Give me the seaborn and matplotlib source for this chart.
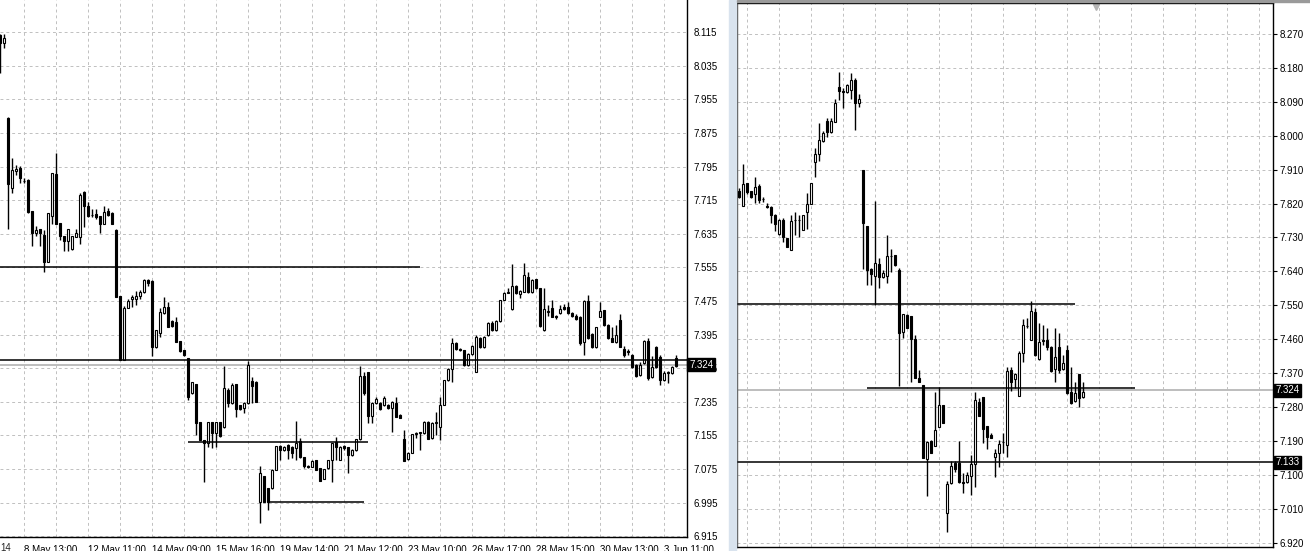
import numpy as np
import matplotlib
matplotlib.use("Agg")
import matplotlib.pyplot as plt
from matplotlib.patches import Rectangle
import seaborn as sns

# ----------------------------------------------------------------------
# Data: left chart (7 May - 3 Jun), one entry per bar
# ----------------------------------------------------------------------
L_OPEN = [
    8.109, 8.090, 7.911, 7.744, 7.785, 7.792, 7.761, 7.763, 7.690, 7.637,
    7.647, 7.633, 7.568, 7.678, 7.778, 7.661, 7.630, 7.618, 7.599, 7.628,
    7.628, 7.735, 7.702, 7.680, 7.682, 7.678, 7.659, 7.690, 7.685, 7.644,
    7.487, 7.335, 7.459, 7.480, 7.480, 7.487, 7.497, 7.525, 7.523, 7.366,
    7.399, 7.447, 7.461, 7.428, 7.425, 7.380, 7.359, 7.340, 7.256, 7.278,
    7.187, 7.144, 7.137, 7.187, 7.161, 7.187, 7.175, 7.263, 7.232, 7.278,
    7.228, 7.221, 7.232, 7.285, 7.283, 6.997, 7.059, 7.030, 7.030, 7.073,
    7.130, 7.121, 7.132, 7.128, 7.125, 7.142, 7.104, 7.082, 7.080, 7.097,
    7.078, 7.052, 7.078, 7.097, 7.140, 7.097, 7.130, 7.128, 7.109, 7.121,
    7.147, 7.297, 7.306, 7.202, 7.232, 7.232, 7.228, 7.228, 7.221, 7.232,
    7.204, 7.147, 7.099, 7.113, 7.159, 7.161, 7.161, 7.187, 7.149, 7.185,
    7.175, 7.228, 7.287, 7.313, 7.375, 7.361, 7.359, 7.323, 7.349, 7.306,
    7.387, 7.366, 7.394, 7.423, 7.406, 7.428, 7.478, 7.494, 7.456, 7.511,
    7.492, 7.497, 7.532, 7.497, 7.528, 7.506, 7.406, 7.449, 7.459, 7.440,
    7.447, 7.461, 7.461, 7.447, 7.440, 7.437, 7.378, 7.475, 7.397, 7.366,
    7.437, 7.454, 7.418, 7.387, 7.378, 7.430, 7.361, 7.356, 7.347, 7.323,
    7.299, 7.328, 7.380, 7.294, 7.366, 7.342, 7.287, 7.304, 7.304, 7.340,
]
L_CLOSE = [
    8.090, 8.102, 7.754, 7.787, 7.790, 7.768, 7.760, 7.687, 7.637, 7.644,
    7.637, 7.568, 7.685, 7.780, 7.659, 7.630, 7.618, 7.647, 7.630, 7.637,
    7.728, 7.702, 7.678, 7.679, 7.675, 7.659, 7.687, 7.680, 7.659, 7.485,
    7.335, 7.459, 7.475, 7.485, 7.487, 7.497, 7.525, 7.518, 7.366, 7.406,
    7.449, 7.461, 7.413, 7.416, 7.378, 7.356, 7.347, 7.247, 7.283, 7.185,
    7.144, 7.137, 7.187, 7.161, 7.187, 7.154, 7.268, 7.232, 7.275, 7.218,
    7.218, 7.232, 7.323, 7.273, 7.235, 7.066, 6.997, 6.997, 7.073, 7.130,
    7.121, 7.128, 7.121, 7.113, 7.137, 7.104, 7.082, 7.080, 7.094, 7.073,
    7.047, 7.075, 7.097, 7.137, 7.128, 7.128, 7.125, 7.109, 7.121, 7.147,
    7.297, 7.256, 7.202, 7.232, 7.242, 7.218, 7.244, 7.221, 7.235, 7.199,
    7.197, 7.094, 7.113, 7.159, 7.161, 7.163, 7.187, 7.147, 7.185, 7.187,
    7.228, 7.287, 7.313, 7.375, 7.361, 7.359, 7.323, 7.349, 7.368, 7.390,
    7.366, 7.390, 7.423, 7.406, 7.428, 7.478, 7.494, 7.497, 7.511, 7.494,
    7.499, 7.537, 7.497, 7.525, 7.506, 7.416, 7.456, 7.452, 7.437, 7.437,
    7.456, 7.456, 7.447, 7.440, 7.432, 7.375, 7.475, 7.387, 7.366, 7.413,
    7.452, 7.418, 7.387, 7.378, 7.394, 7.366, 7.347, 7.354, 7.318, 7.297,
    7.323, 7.380, 7.292, 7.318, 7.318, 7.287, 7.304, 7.306, 7.318, 7.321,
]
L_HIGH = [
    8.111, 8.111, 7.913, 7.816, 7.799, 7.797, 7.768, 7.765, 7.690, 7.654,
    7.647, 7.644, 7.685, 7.780, 7.828, 7.661, 7.630, 7.647, 7.630, 7.647,
    7.733, 7.737, 7.711, 7.694, 7.694, 7.678, 7.702, 7.697, 7.687, 7.647,
    7.487, 7.463, 7.480, 7.490, 7.499, 7.502, 7.528, 7.528, 7.525, 7.406,
    7.459, 7.485, 7.473, 7.430, 7.437, 7.380, 7.359, 7.340, 7.283, 7.278,
    7.187, 7.144, 7.187, 7.187, 7.187, 7.187, 7.321, 7.268, 7.280, 7.278,
    7.228, 7.235, 7.332, 7.294, 7.285, 7.082, 7.059, 7.030, 7.075, 7.130,
    7.132, 7.130, 7.135, 7.130, 7.190, 7.149, 7.104, 7.085, 7.097, 7.097,
    7.078, 7.075, 7.097, 7.137, 7.151, 7.130, 7.132, 7.128, 7.123, 7.147,
    7.321, 7.306, 7.306, 7.235, 7.247, 7.235, 7.249, 7.230, 7.237, 7.247,
    7.206, 7.168, 7.116, 7.159, 7.163, 7.163, 7.190, 7.190, 7.187, 7.211,
    7.247, 7.287, 7.316, 7.387, 7.378, 7.363, 7.359, 7.352, 7.371, 7.394,
    7.390, 7.392, 7.425, 7.428, 7.430, 7.478, 7.497, 7.506, 7.563, 7.513,
    7.502, 7.566, 7.544, 7.528, 7.528, 7.506, 7.506, 7.466, 7.478, 7.442,
    7.466, 7.468, 7.473, 7.449, 7.444, 7.440, 7.478, 7.490, 7.399, 7.413,
    7.473, 7.454, 7.421, 7.413, 7.418, 7.444, 7.368, 7.361, 7.349, 7.325,
    7.330, 7.383, 7.387, 7.344, 7.368, 7.347, 7.309, 7.309, 7.321, 7.347,
]
L_LOW = [
    8.018, 8.078, 7.647, 7.733, 7.775, 7.756, 7.756, 7.685, 7.606, 7.630,
    7.606, 7.544, 7.568, 7.659, 7.659, 7.621, 7.594, 7.594, 7.597, 7.628,
    7.611, 7.652, 7.675, 7.675, 7.671, 7.637, 7.659, 7.678, 7.659, 7.485,
    7.335, 7.335, 7.459, 7.461, 7.466, 7.480, 7.494, 7.511, 7.344, 7.363,
    7.390, 7.444, 7.413, 7.413, 7.378, 7.354, 7.344, 7.240, 7.254, 7.156,
    7.144, 7.044, 7.128, 7.125, 7.128, 7.151, 7.173, 7.223, 7.230, 7.199,
    7.216, 7.209, 7.230, 7.232, 7.235, 6.947, 6.997, 6.978, 7.028, 7.073,
    7.097, 7.118, 7.099, 7.101, 7.097, 7.101, 7.078, 7.078, 7.080, 7.073,
    7.047, 7.052, 7.075, 7.044, 7.097, 7.097, 7.121, 7.066, 7.106, 7.118,
    7.144, 7.252, 7.185, 7.185, 7.230, 7.216, 7.225, 7.218, 7.163, 7.199,
    7.197, 7.094, 7.097, 7.113, 7.149, 7.121, 7.159, 7.147, 7.147, 7.156,
    7.144, 7.228, 7.285, 7.283, 7.359, 7.356, 7.321, 7.321, 7.347, 7.306,
    7.363, 7.363, 7.392, 7.404, 7.404, 7.425, 7.478, 7.494, 7.454, 7.492,
    7.482, 7.497, 7.494, 7.494, 7.504, 7.413, 7.404, 7.440, 7.437, 7.432,
    7.444, 7.454, 7.444, 7.437, 7.430, 7.371, 7.347, 7.385, 7.363, 7.363,
    7.437, 7.416, 7.385, 7.378, 7.375, 7.366, 7.342, 7.347, 7.316, 7.294,
    7.297, 7.325, 7.287, 7.292, 7.316, 7.275, 7.285, 7.280, 7.301, 7.318,
]
L_TICK_BARS = [6, 22, 38, 54, 70, 86, 102, 118, 134, 150, 166]
L_TICK_LABELS = ["8 May 13:00", "12 May 11:00", "14 May 09:00", "15 May 16:00",
                 "19 May 14:00", "21 May 12:00", "23 May 10:00", "26 May 17:00",
                 "28 May 15:00", "30 May 13:00", "3 Jun 11:00"]
L_PRICE_TICKS = [round(8.115 - 0.08 * n, 3) for n in range(16)]
# horizontal levels: price, first bar, last bar
L_LEVELS = [7.556, 7.335, 7.140, 6.997]
L_LEVEL_FROM = [-1, -1, 47, 67]
L_LEVEL_TO = [105, 175, 92, 91]

# ----------------------------------------------------------------------
# Data: right chart
# ----------------------------------------------------------------------
R_OPEN = [
    7.853, 7.813, 7.874, 7.853, 7.845, 7.867, 7.832, 7.813, 7.811, 7.790,
    7.739, 7.776, 7.729, 7.697, 7.776, 7.776, 7.750, 7.798, 7.819, 7.930,
    7.952, 7.986, 8.039, 8.010, 8.036, 8.129, 8.119, 8.116, 8.121, 8.148,
    8.087, 7.909, 7.760, 7.646, 7.628, 7.660, 7.625, 7.628, 7.681, 7.683,
    7.644, 7.479, 7.524, 7.521, 7.460, 7.357, 7.338, 7.142, 7.190, 7.176,
    7.227, 7.285, 6.998, 7.078, 7.131, 7.131, 7.081, 7.081, 7.097, 7.129,
    7.293, 7.306, 7.229, 7.206, 7.147, 7.158, 7.187, 7.179, 7.378, 7.354,
    7.309, 7.423, 7.495, 7.458, 7.532, 7.407, 7.455, 7.458, 7.439, 7.381,
    7.439, 7.381, 7.431, 7.320, 7.296, 7.367, 7.306,
]
R_CLOSE = [
    7.837, 7.872, 7.851, 7.837, 7.864, 7.829, 7.831, 7.811, 7.790, 7.766,
    7.776, 7.731, 7.705, 7.774, 7.777, 7.775, 7.790, 7.819, 7.874, 7.952,
    7.989, 8.007, 8.010, 8.039, 8.087, 8.119, 8.116, 8.135, 8.148, 8.087,
    8.097, 7.768, 7.644, 7.633, 7.662, 7.625, 7.636, 7.681, 7.680, 7.657,
    7.476, 7.527, 7.490, 7.460, 7.357, 7.346, 7.145, 7.187, 7.158, 7.219,
    7.285, 7.237, 7.075, 7.123, 7.115, 7.081, 7.079, 7.099, 7.129, 7.298,
    7.256, 7.221, 7.200, 7.198, 7.158, 7.182, 7.188, 7.375, 7.346, 7.367,
    7.423, 7.498, 7.496, 7.535, 7.418, 7.452, 7.458, 7.439, 7.375, 7.413,
    7.378, 7.397, 7.317, 7.290, 7.317, 7.304, 7.320,
]
R_HIGH = [
    7.861, 7.925, 7.874, 7.853, 7.890, 7.872, 7.837, 7.821, 7.813, 7.792,
    7.779, 7.782, 7.729, 7.790, 7.798, 7.790, 7.790, 7.848, 7.874, 7.967,
    8.034, 8.013, 8.047, 8.047, 8.097, 8.169, 8.127, 8.137, 8.166, 8.153,
    8.111, 7.909, 7.760, 7.649, 7.827, 7.675, 7.644, 7.736, 7.699, 7.683,
    7.649, 7.527, 7.527, 7.521, 7.471, 7.378, 7.338, 7.190, 7.192, 7.320,
    7.333, 7.285, 7.083, 7.137, 7.137, 7.190, 7.105, 7.107, 7.152, 7.320,
    7.304, 7.306, 7.229, 7.211, 7.168, 7.192, 7.211, 7.386, 7.386, 7.370,
    7.429, 7.513, 7.516, 7.561, 7.543, 7.503, 7.498, 7.490, 7.442, 7.490,
    7.476, 7.418, 7.444, 7.386, 7.346, 7.367, 7.346,
]
R_LOW = [
    7.835, 7.813, 7.845, 7.835, 7.821, 7.821, 7.824, 7.808, 7.768, 7.747,
    7.736, 7.718, 7.705, 7.697, 7.736, 7.731, 7.750, 7.752, 7.819, 7.890,
    7.933, 7.983, 7.997, 8.007, 8.036, 8.095, 8.074, 8.113, 8.097, 8.015,
    8.076, 7.646, 7.604, 7.604, 7.551, 7.596, 7.622, 7.609, 7.638, 7.654,
    7.336, 7.463, 7.490, 7.346, 7.357, 7.346, 7.145, 7.044, 7.158, 7.176,
    7.227, 7.237, 6.948, 7.075, 7.107, 7.078, 7.052, 7.078, 7.046, 7.068,
    7.256, 7.184, 7.168, 7.198, 7.094, 7.121, 7.158, 7.147, 7.322, 7.330,
    7.309, 7.399, 7.490, 7.458, 7.415, 7.405, 7.444, 7.431, 7.373, 7.346,
    7.370, 7.378, 7.314, 7.288, 7.293, 7.280, 7.304,
]
R_TICK_BARS = [10, 26, 42, 58, 74]
R_PRICE_TICKS = [round(8.270 - 0.09 * n, 3) for n in range(16)]
R_LEVELS = [7.553, 7.330, 7.133]
R_LEVEL_FROM = [-1, 32, -1]
R_LEVEL_TO = [84, 99, 140]

BID = 7.324

# ----------------------------------------------------------------------
# Style
# ----------------------------------------------------------------------
sns.set_style("white")
plt.rcParams["font.family"] = ["Liberation Sans", "DejaVu Sans"]
GRID = "#c0c0c0"
FS = 7


def draw_candles(ax, o, h, l, c):
    o, h, l, c = map(np.asarray, (o, h, l, c))
    x = np.arange(len(o))
    ax.vlines(x, l, h, color="black", lw=1.0, zorder=3)
    up = c >= o
    ax.bar(x[up], c[up] - o[up], bottom=o[up], width=0.5, color="white",
           edgecolor="black", lw=0.8, zorder=4)
    ax.bar(x[~up], o[~up] - c[~up], bottom=c[~up], width=0.5, color="black",
           edgecolor="black", lw=0.8, zorder=4)


def style_axes(ax, price_ticks, major_bars, minor_bars):
    ax.set_yticks(price_ticks)
    ax.set_yticklabels([f"{p:.3f}" for p in price_ticks])
    ax.set_xticks(major_bars)
    ax.set_xticks(minor_bars, minor=True)
    ax.yaxis.tick_right()
    ax.tick_params(axis="y", length=3, width=0.8, pad=2, labelsize=FS,
                   colors="black")
    ax.tick_params(axis="x", which="major", length=5, width=0.8, pad=1,
                   labelsize=FS, colors="black")
    ax.tick_params(axis="x", which="minor", length=0)
    ax.grid(True, which="both", color=GRID, ls=(0, (3, 3)), lw=0.7)
    ax.set_axisbelow(True)
    for s in ax.spines.values():
        s.set_color("black")
        s.set_linewidth(1.0)


W, H = 1310, 551
fig = plt.figure(figsize=(W / 100, H / 100), dpi=100)
fig.patch.set_facecolor("white")

# ----------------------------------------------------------------------
# Left chart
# ----------------------------------------------------------------------
ax_l = fig.add_axes([0, (H - 537) / H, 687 / W, 537 / H])
draw_candles(ax_l, L_OPEN, L_HIGH, L_LOW, L_CLOSE)
l_minor = [b for b in range(6, 172, 8) if b not in L_TICK_BARS]
style_axes(ax_l, L_PRICE_TICKS, L_TICK_BARS, l_minor)
ax_l.set_xticklabels(L_TICK_LABELS)
for lbl in ax_l.get_xticklabels():
    lbl.set_ha("left")
ax_l.set_xlim(-0.08, 171.67)
ax_l.set_ylim(6.9133, 8.1919)
sns.despine(ax=ax_l, left=True, top=True, right=False, bottom=False)
for p, a, b in zip(L_LEVELS, L_LEVEL_FROM, L_LEVEL_TO):
    ax_l.hlines(p, a, b, color="black", lw=1.1, zorder=5)
ax_l.axhline(BID, color="#bdbdbd", lw=1.4, zorder=2)
ax_l.text(1.003, BID, f"{BID:.3f}", transform=ax_l.get_yaxis_transform(),
          ha="left", va="center", color="white", fontsize=FS, zorder=10,
          bbox=dict(fc="black", ec="black", pad=1.2), clip_on=False)
fig.text(0.0, (H - 543) / H, "14", ha="left", va="top", fontsize=FS)

# ----------------------------------------------------------------------
# Right chart
# ----------------------------------------------------------------------
ax_r = fig.add_axes([737 / W, (H - 547) / H, (1273 - 737) / W, (547 - 3.3) / H])
draw_candles(ax_r, R_OPEN, R_HIGH, R_LOW, R_CLOSE)
r_minor = [b for b in range(2, 134, 8) if b not in R_TICK_BARS]
style_axes(ax_r, R_PRICE_TICKS, R_TICK_BARS, r_minor)
ax_r.set_xticklabels([""] * len(R_TICK_BARS))
ax_r.tick_params(axis="x", which="major", length=4)
ax_r.spines["left"].set_color("#505050")
ax_r.set_xlim(-0.575, 133.425)
ax_r.set_ylim(6.9082, 8.3515)
for p, a, b in zip(R_LEVELS, R_LEVEL_FROM, R_LEVEL_TO):
    ax_r.hlines(p, a, b, color="black", lw=1.1, zorder=5)
ax_r.axhline(BID, color="#bdbdbd", lw=1.4, zorder=2)
for p in [BID, R_LEVELS[-1]]:
    ax_r.text(1.005, p, f"{p:.3f}", transform=ax_r.get_yaxis_transform(),
              ha="left", va="center", color="white", fontsize=FS, zorder=10,
              bbox=dict(fc="black", ec="black", pad=1.2), clip_on=False)
ax_r.plot([0.669], [0.994], marker="v", ms=5, color="#b4b4b4",
          transform=ax_r.transAxes, clip_on=False)

# window separator strip and top border
fig.patches.append(Rectangle((729 / W, 0), 7 / W, 1, transform=fig.transFigure,
                             color="#d9e3ee", zorder=0))
fig.patches.append(Rectangle((737 / W, (H - 1.5) / H), 1 - 737 / W, 1.5 / H,
                             transform=fig.transFigure, color="#9a9a9a", zorder=0))

fig.savefig("out.png", dpi=100)
